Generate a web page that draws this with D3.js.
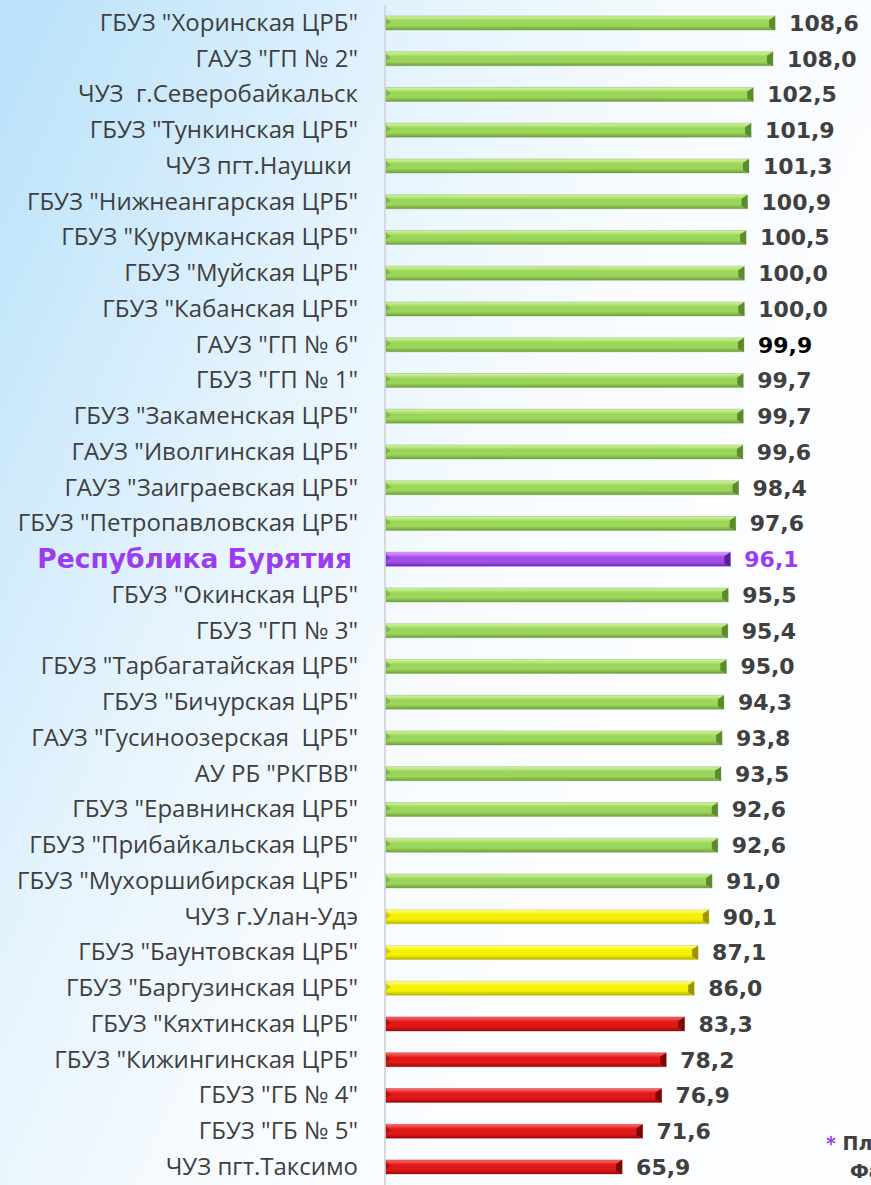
<!DOCTYPE html>
<html>
<head>
<meta charset="utf-8">
<script src="https://cdn.jsdelivr.net/npm/d3@7"></script>
<style>
  html, body { margin: 0; padding: 0; overflow: hidden; background: #fff; }
</style>
</head>
<body>
<div id="js-chart"></div>
<script>
//  Chart data
var categories = [
  'ГБУЗ "Хоринская ЦРБ"',
  'ГАУЗ "ГП № 2"',
  'ЧУЗ  г.Северобайкальск',
  'ГБУЗ "Тункинская ЦРБ"',
  'ЧУЗ пгт.Наушки ',
  'ГБУЗ "Нижнеангарская ЦРБ"',
  'ГБУЗ "Курумканская ЦРБ"',
  'ГБУЗ "Муйская ЦРБ"',
  'ГБУЗ "Кабанская ЦРБ"',
  'ГАУЗ "ГП № 6"',
  'ГБУЗ "ГП № 1"',
  'ГБУЗ "Закаменская ЦРБ"',
  'ГАУЗ "Иволгинская ЦРБ"',
  'ГАУЗ "Заиграевская ЦРБ"',
  'ГБУЗ "Петропавловская ЦРБ"',
  'Республика Бурятия',
  'ГБУЗ "Окинская ЦРБ"',
  'ГБУЗ "ГП № 3"',
  'ГБУЗ "Тарбагатайская ЦРБ"',
  'ГБУЗ "Бичурская ЦРБ"',
  'ГАУЗ "Гусиноозерская  ЦРБ"',
  'АУ РБ "РКГВВ"',
  'ГБУЗ "Еравнинская ЦРБ"',
  'ГБУЗ "Прибайкальская ЦРБ"',
  'ГБУЗ "Мухоршибирская ЦРБ"',
  'ЧУЗ г.Улан-Удэ',
  'ГБУЗ "Баунтовская ЦРБ"',
  'ГБУЗ "Баргузинская ЦРБ"',
  'ГБУЗ "Кяхтинская ЦРБ"',
  'ГБУЗ "Кижингинская ЦРБ"',
  'ГБУЗ "ГБ № 4"',
  'ГБУЗ "ГБ № 5"',
  'ЧУЗ пгт.Таксимо'
];

var values = [
  108.6, 108.0, 102.5, 101.9, 101.3, 100.9, 100.5, 100.0, 100.0, 99.9,
  99.7, 99.7, 99.6, 98.4, 97.6, 96.1, 95.5, 95.4, 95.0, 94.3,
  93.8, 93.5, 92.6, 92.6, 91.0, 90.1, 87.1, 86.0, 83.3, 78.2,
  76.9, 71.6, 65.9
];

//  Colour group of every bar
var groups = [
  "green", "green", "green", "green", "green", "green", "green", "green", "green", "green",
  "green", "green", "green", "green", "green", "region", "green", "green", "green", "green",
  "green", "green", "green", "green", "green", "yellow", "yellow", "yellow", "red", "red",
  "red", "red", "red"
];

var footnote = ["* План", "Факт"];

// ---------------------------------------------------------------------------------- //

var width = 871;
var height = 1185;

var palette = {
  green:  { top: "#d4f7a0", mid: "#9bd65a", bot: "#6e9e3c", end: "#5c8a2e" },
  yellow: { top: "#ffff90", mid: "#f5f000", bot: "#b8b000", end: "#9a9400" },
  red:    { top: "#ff7070", mid: "#e01818", bot: "#9a0a0a", end: "#7a0606" },
  region: { top: "#e6a0ff", mid: "#a44ee8", bot: "#7028b8", end: "#5a1c9a" }
};

var svg = d3.select("#js-chart")
  .append("svg")
  .attr("width", width)
  .attr("height", height);

var defs = svg.append("defs");

//  Background wash
var bg = defs.append("linearGradient")
  .attr("id", "bg")
  .attr("x1", "0").attr("y1", "0.1")
  .attr("x2", "0.75").attr("y2", "0.55");
bg.append("stop").attr("offset", "0").attr("stop-color", "#bde3fa");
bg.append("stop").attr("offset", "0.45").attr("stop-color", "#e6f4fd");
bg.append("stop").attr("offset", "0.75").attr("stop-color", "#f7fbfe");
bg.append("stop").attr("offset", "1").attr("stop-color", "#fbfdff");

svg.append("rect")
  .attr("width", width)
  .attr("height", height)
  .attr("fill", "url(#bg)");

//  Bar gradients
Object.keys(palette).forEach(function(k) {
  var c = palette[k];
  var g = defs.append("linearGradient")
    .attr("id", "bar-" + k)
    .attr("x1", "0").attr("y1", "0")
    .attr("x2", "0").attr("y2", "1");
  g.append("stop").attr("offset", "0").attr("stop-color", c.top);
  g.append("stop").attr("offset", "0.35").attr("stop-color", c.mid);
  g.append("stop").attr("offset", "0.7").attr("stop-color", c.mid);
  g.append("stop").attr("offset", "1").attr("stop-color", c.bot);
});

//  Scales
var x = d3.scaleLinear()
  .domain([0, 120])
  .range([386, 386 + 120 * 3.583]);

var y = d3.scaleBand()
  .domain(categories)
  .range([5.1, 5.1 + categories.length * 35.75])
  .paddingInner(0.6)
  .paddingOuter(0.3);

var data = categories.map(function(c, i) {
  return { name: c, value: values[i], group: groups[i], index: i };
});

//  Axis line
svg.append("line")
  .attr("x1", x(0) - 1).attr("x2", x(0) - 1)
  .attr("y1", 5).attr("y2", height)
  .attr("stroke", "#d6d9dc")
  .attr("stroke-width", 2);

var bh = 14;
function yc(d) { return y(d.name) + y.bandwidth() / 2; }

//  Bars
var bars = svg.append("g").selectAll("g")
  .data(data)
  .join("g");

bars.append("rect")
  .attr("x", x(0))
  .attr("y", function(d) { return yc(d) - bh / 2; })
  .attr("width", function(d) { return x(d.value) - x(0); })
  .attr("height", bh)
  .attr("fill", function(d) { return "url(#bar-" + d.group + ")"; })
  .attr("stroke", function(d) { return palette[d.group].bot; })
  .attr("stroke-opacity", 0.35)
  .attr("stroke-width", 1);

//  Bevelled right end of the bar
bars.append("path")
  .attr("d", function(d) {
    var x1 = x(d.value), y0 = yc(d) - bh / 2;
    return "M" + x1 + "," + y0 + " L" + (x1 - 6) + "," + (y0 + 4) +
      " L" + (x1 - 6) + "," + (y0 + bh - 3) + " L" + x1 + "," + (y0 + bh) + " Z";
  })
  .attr("fill", function(d) { return palette[d.group].end; });

//  Small bevel at the left end
bars.append("path")
  .attr("d", function(d) {
    var x0 = x(0), y0 = yc(d) - bh / 2;
    return "M" + x0 + "," + (y0 + 2) + " L" + (x0 + 5) + "," + (y0 + 6) +
      " L" + x0 + "," + (y0 + 9) + " Z";
  })
  .attr("fill", function(d) { return palette[d.group].bot; })
  .attr("opacity", 0.6);

//  Category labels
svg.append("g").selectAll("text")
  .data(data)
  .join("text")
  .attr("x", function(d) { return d.group === "region" ? 352 : 358; })
  .attr("y", function(d) { return yc(d) + (d.group === "region" ? 9 : 8); })
  .attr("text-anchor", "end")
  .attr("xml:space", "preserve")
  .style("font-family", function(d) { return d.group === "region" ? "'DejaVu Sans'" : "'Open Sans'"; })
  .style("font-size", function(d) { return d.group === "region" ? "26.5px" : "24px"; })
  .style("font-weight", function(d) { return d.group === "region" ? "bold" : "normal"; })
  .style("fill", function(d) { return d.group === "region" ? "#9b3cf0" : "#3f3f3f"; })
  .text(function(d) { return d.name; });

//  Value labels
svg.append("g").selectAll("text")
  .data(data)
  .join("text")
  .attr("x", function(d) { return x(d.value) + 14; })
  .attr("y", function(d) { return yc(d) + 8; })
  .style("font-family", "'DejaVu Sans'")
  .style("font-size", "22px")
  .style("font-weight", "bold")
  .style("fill", function(d) {
    if (d.group === "region") return "#9b3cf0";
    if (d.value === 99.9) return "#000000";
    return "#404040";
  })
  .text(function(d) { return d3.format(".1f")(d.value).replace(".", ","); });

//  Footnote (cut by the right edge, as in the source slide)
var fn = svg.append("text")
  .attr("x", 826)
  .attr("y", 1150)
  .style("font-family", "'DejaVu Sans'")
  .style("font-size", "19px")
  .style("font-weight", "bold")
  .style("fill", "#404040");
fn.append("tspan").style("fill", "#9b3cf0").text("* ");
fn.append("tspan").text(footnote[0].slice(2));
svg.append("text")
  .attr("x", 850)
  .attr("y", 1178)
  .style("font-family", "'DejaVu Sans'")
  .style("font-size", "19px")
  .style("font-weight", "bold")
  .style("fill", "#404040")
  .text(footnote[1]);
</script>
</body>
</html>
